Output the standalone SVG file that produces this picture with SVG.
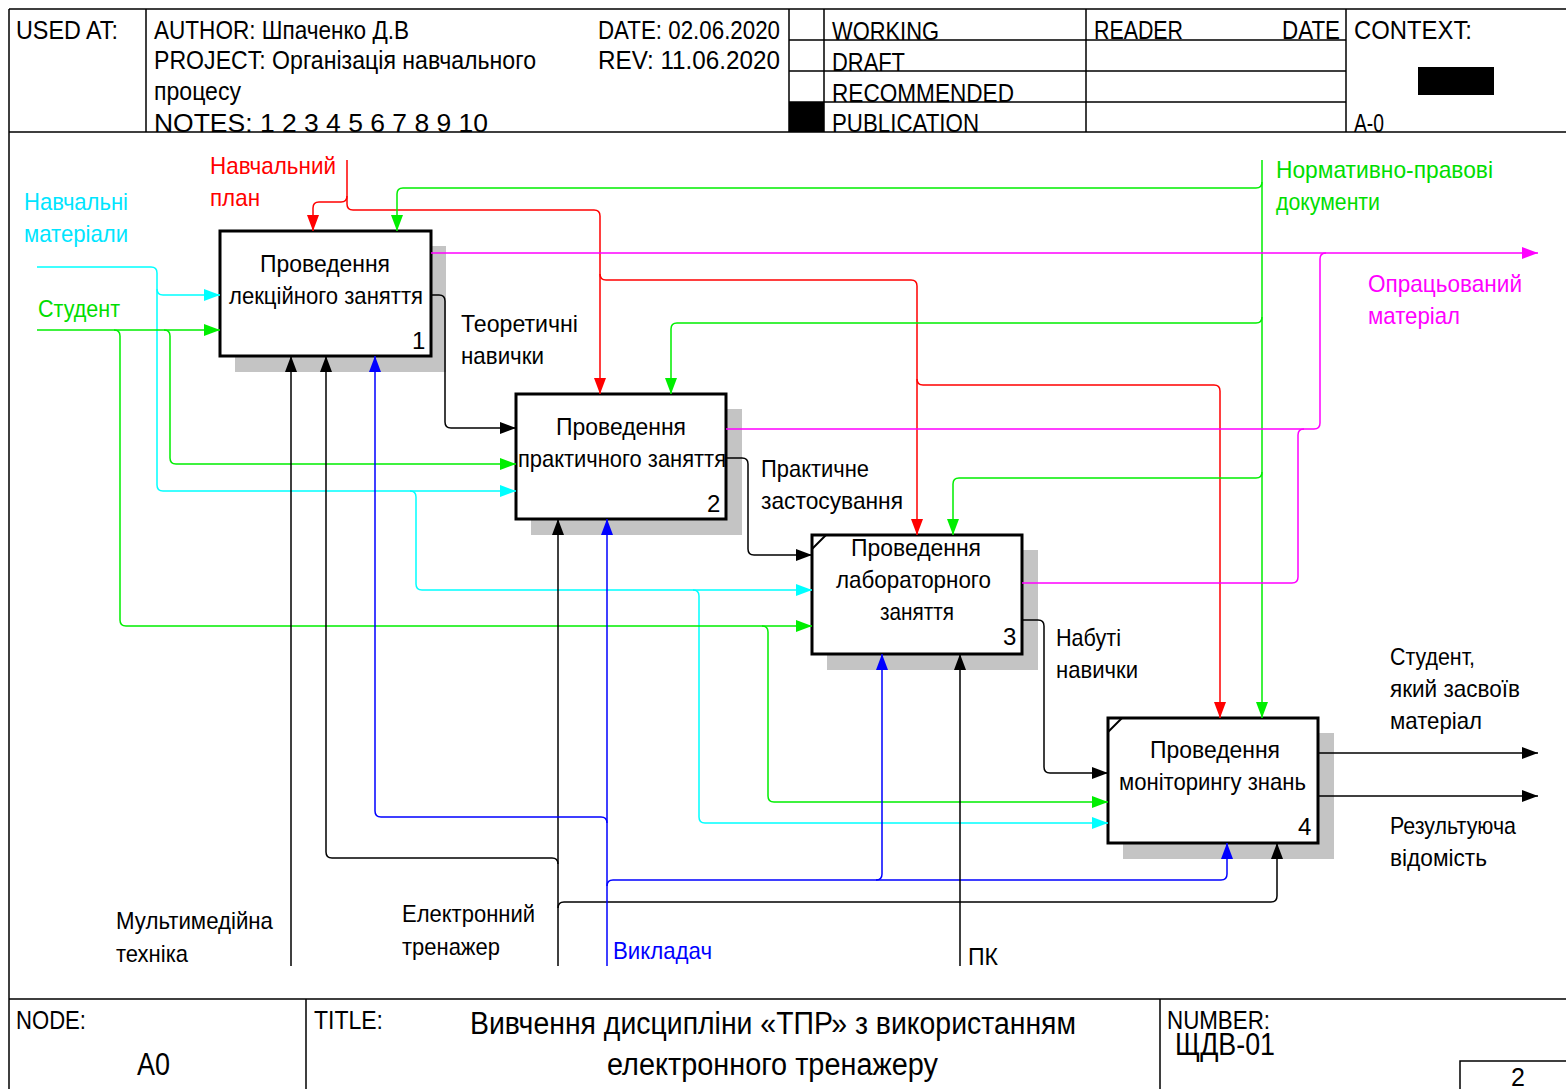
<svg xmlns="http://www.w3.org/2000/svg" width="1566" height="1089" viewBox="0 0 1566 1089">
  <style>
    text { font-family: "Liberation Sans", Arial, sans-serif; font-size: 24px; fill: #000; }
    .hd { font-size: 25px; }
    .ttl { font-size: 31px; }
    .frame { stroke: #000; stroke-width: 1.5; fill: none; }
    .box { fill: #fff; stroke: #000; stroke-width: 3; }
    .shadow { fill: #c4c4c4; }
    .c { fill: none; stroke-width: 1.5; }
    .k { stroke: #000; }
    .r { stroke: #ff0000; }
    .g { stroke: #00ee00; }
    .cy { stroke: #00ffff; }
    .b { stroke: #0000ff; }
    .m { stroke: #ff00ff; }
    .tr { fill: #ff0000; }
    .tg { fill: #00dd00; }
    .tc { fill: #00e5ff; }
    .tb { fill: #0000ff; }
    .tm { fill: #ff00ff; }
  </style>
  <defs>
    <marker id="ak" markerUnits="userSpaceOnUse" markerWidth="16" markerHeight="12" refX="16" refY="6" orient="auto"><path d="M0,0 L16,6 L0,12 z" fill="#000"/></marker>
    <marker id="ar" markerUnits="userSpaceOnUse" markerWidth="16" markerHeight="12" refX="16" refY="6" orient="auto"><path d="M0,0 L16,6 L0,12 z" fill="#ff0000"/></marker>
    <marker id="ag" markerUnits="userSpaceOnUse" markerWidth="16" markerHeight="12" refX="16" refY="6" orient="auto"><path d="M0,0 L16,6 L0,12 z" fill="#00ee00"/></marker>
    <marker id="ac" markerUnits="userSpaceOnUse" markerWidth="16" markerHeight="12" refX="16" refY="6" orient="auto"><path d="M0,0 L16,6 L0,12 z" fill="#00ffff"/></marker>
    <marker id="ab" markerUnits="userSpaceOnUse" markerWidth="16" markerHeight="12" refX="16" refY="6" orient="auto"><path d="M0,0 L16,6 L0,12 z" fill="#0000ff"/></marker>
    <marker id="am" markerUnits="userSpaceOnUse" markerWidth="16" markerHeight="12" refX="16" refY="6" orient="auto"><path d="M0,0 L16,6 L0,12 z" fill="#ff00ff"/></marker>
  </defs>

  <rect width="1566" height="1089" fill="#fff"/>

  <!-- header block -->
  <g id="header">
    <path class="frame" d="M9,9 H1566 M9,132 H1566 M9,9 V1089 M146,9 V132 M789,9 V132 M824,9 V132 M1086,9 V132 M1346,9 V132 M789,40 H1346 M789,71 H1346 M789,102 H1346"/>
    <rect x="789" y="102" width="35" height="30" fill="#000"/>
    <rect x="1418" y="67" width="76" height="28" fill="#000"/>
    <text class="hd" x="16" y="39" textLength="102" lengthAdjust="spacingAndGlyphs">USED AT:</text>
    <text class="hd" x="154" y="39" textLength="255" lengthAdjust="spacingAndGlyphs">AUTHOR:  Шпаченко Д.В</text>
    <text class="hd" x="598" y="39" textLength="182" lengthAdjust="spacingAndGlyphs">DATE: 02.06.2020</text>
    <text class="hd" x="154" y="69" textLength="382" lengthAdjust="spacingAndGlyphs">PROJECT:  Організація навчального</text>
    <text class="hd" x="598" y="69" textLength="182" lengthAdjust="spacingAndGlyphs">REV:   11.06.2020</text>
    <text class="hd" x="154" y="100" textLength="87" lengthAdjust="spacingAndGlyphs">процесу</text>
    <text class="hd" x="154" y="132" textLength="334" lengthAdjust="spacingAndGlyphs">NOTES:  1  2  3  4  5  6  7  8  9  10</text>
    <text class="hd" x="832" y="40" textLength="107" lengthAdjust="spacingAndGlyphs">WORKING</text>
    <text class="hd" x="832" y="71" textLength="73" lengthAdjust="spacingAndGlyphs">DRAFT</text>
    <text class="hd" x="832" y="102" textLength="182" lengthAdjust="spacingAndGlyphs">RECOMMENDED</text>
    <text class="hd" x="832" y="132" textLength="147" lengthAdjust="spacingAndGlyphs">PUBLICATION</text>
    <text class="hd" x="1094" y="39" textLength="89" lengthAdjust="spacingAndGlyphs">READER</text>
    <text class="hd" x="1282" y="39" textLength="58" lengthAdjust="spacingAndGlyphs">DATE</text>
    <text class="hd" x="1354" y="39" textLength="118" lengthAdjust="spacingAndGlyphs">CONTEXT:</text>
    <text class="hd" x="1354" y="132" textLength="30" lengthAdjust="spacingAndGlyphs">A-0</text>
  </g>

  <!-- footer block -->
  <g id="footer">
    <path class="frame" d="M9,999 H1566 M306,999 V1089 M1160,999 V1089 M1460,1089 V1061 H1566"/>
    <text class="hd" x="16" y="1029" textLength="70" lengthAdjust="spacingAndGlyphs">NODE:</text>
    <text class="ttl" x="137" y="1075" textLength="33" lengthAdjust="spacingAndGlyphs">A0</text>
    <text class="hd" x="314" y="1029" textLength="69" lengthAdjust="spacingAndGlyphs">TITLE:</text>
    <text class="ttl" x="470" y="1034" textLength="606" lengthAdjust="spacingAndGlyphs">Вивчення дисципліни «ТПР» з використанням</text>
    <text class="ttl" x="607" y="1075" textLength="331" lengthAdjust="spacingAndGlyphs">електронного тренажеру</text>
    <text class="hd" x="1167" y="1029" textLength="103" lengthAdjust="spacingAndGlyphs">NUMBER:</text>
    <text class="ttl" x="1175" y="1055" textLength="100" lengthAdjust="spacingAndGlyphs">ЩДВ-01</text>
    <text class="hd" x="1511" y="1086">2</text>
  </g>

  <!-- activity 1 -->
  <g id="node1">
    <rect class="shadow" x="235" y="246" width="211" height="126"/>
    <rect class="box" x="220" y="231" width="211" height="125"/>
    <text x="260" y="272" textLength="130" lengthAdjust="spacingAndGlyphs">Проведення</text>
    <text x="229" y="304" textLength="194" lengthAdjust="spacingAndGlyphs">лекційного заняття</text>
    <text x="412" y="349">1</text>
  </g>
  <!-- activity 2 -->
  <g id="node2">
    <rect class="shadow" x="531" y="409" width="211" height="126"/>
    <rect class="box" x="516" y="394" width="210" height="125"/>
    <text x="556" y="435" textLength="130" lengthAdjust="spacingAndGlyphs">Проведення</text>
    <text x="518" y="467" textLength="208" lengthAdjust="spacingAndGlyphs">практичного заняття</text>
    <text x="707" y="512">2</text>
  </g>
  <!-- activity 3 -->
  <g id="node3">
    <rect class="shadow" x="827" y="550" width="211" height="120"/>
    <rect class="box" x="812" y="535" width="210" height="119"/>
    <path d="M812,549 L826,535" stroke="#000" stroke-width="2"/>
    <text x="851" y="556" textLength="130" lengthAdjust="spacingAndGlyphs">Проведення</text>
    <text x="836" y="588" textLength="155" lengthAdjust="spacingAndGlyphs">лабораторного</text>
    <text x="880" y="620" textLength="74" lengthAdjust="spacingAndGlyphs">заняття</text>
    <text x="1003" y="645">3</text>
  </g>
  <!-- activity 4 -->
  <g id="node4">
    <rect class="shadow" x="1123" y="733" width="211" height="126"/>
    <rect class="box" x="1108" y="718" width="210" height="125"/>
    <path d="M1108,732 L1122,718" stroke="#000" stroke-width="2"/>
    <text x="1150" y="758" textLength="130" lengthAdjust="spacingAndGlyphs">Проведення</text>
    <text x="1119" y="790" textLength="187" lengthAdjust="spacingAndGlyphs">моніторингу знань</text>
    <text x="1298" y="835">4</text>
  </g>

  <!-- connectors -->
  <g id="connectors">
    <!-- inputs: Навчальні матеріали -->
    <path class="c cy" d="M37,267 H151 Q157,267 157,273 V289 Q157,295 163,295 H220" marker-end="url(#ac)"/>
    <path class="c cy" d="M157,289 V485 Q157,491 163,491 H516" marker-end="url(#ac)"/>
    <path class="c cy" d="M410,491 Q416,491 416,497 V584 Q416,590 422,590 H812" marker-end="url(#ac)"/>
    <path class="c cy" d="M693,590 Q699,590 699,596 V817 Q699,823 705,823 H1108" marker-end="url(#ac)"/>
    <!-- inputs: Студент -->
    <path class="c g" d="M37,330 H220" marker-end="url(#ag)"/>
    <path class="c g" d="M114,330 Q120,330 120,336 V620 Q120,626 126,626 H812" marker-end="url(#ag)"/>
    <path class="c g" d="M164,330 Q170,330 170,336 V458 Q170,464 176,464 H516" marker-end="url(#ag)"/>
    <path class="c g" d="M762,626 Q768,626 768,632 V796 Q768,802 774,802 H1108" marker-end="url(#ag)"/>
    <!-- controls: Навчальний план -->
    <path class="c r" d="M347,160 V196 Q347,202 341,202 H319 Q313,202 313,208 V231" marker-end="url(#ar)"/>
    <path class="c r" d="M347,196 V204 Q347,210 353,210 H594 Q600,210 600,216 V394" marker-end="url(#ar)"/>
    <path class="c r" d="M600,274 Q600,280 606,280 H911 Q917,280 917,286 V535" marker-end="url(#ar)"/>
    <path class="c r" d="M917,379 Q917,385 923,385 H1214 Q1220,385 1220,391 V718" marker-end="url(#ar)"/>
    <!-- controls: Нормативно-правові документи -->
    <path class="c g" d="M1262,160 V718" marker-end="url(#ag)"/>
    <path class="c g" d="M1262,182 Q1262,188 1256,188 H403 Q397,188 397,194 V231" marker-end="url(#ag)"/>
    <path class="c g" d="M1262,317 Q1262,323 1256,323 H677 Q671,323 671,329 V394" marker-end="url(#ag)"/>
    <path class="c g" d="M1262,472 Q1262,478 1256,478 H959 Q953,478 953,484 V535" marker-end="url(#ag)"/>
    <!-- outputs: Опрацьований матеріал -->
    <path class="c m" d="M431,253 H1538" marker-end="url(#am)"/>
    <path class="c m" d="M726,429 H1314 Q1320,429 1320,423 V259 Q1320,253 1326,253"/>
    <path class="c m" d="M1022,583 H1292 Q1298,583 1298,577 V435 Q1298,429 1304,429"/>
    <!-- activity-to-activity flows -->
    <path class="c k" d="M431,295 H439 Q445,295 445,301 V422 Q445,428 451,428 H516" marker-end="url(#ak)"/>
    <path class="c k" d="M726,458 H742 Q748,458 748,464 V549 Q748,555 754,555 H812" marker-end="url(#ak)"/>
    <path class="c k" d="M1022,620 H1038 Q1044,620 1044,626 V767 Q1044,773 1050,773 H1108" marker-end="url(#ak)"/>
    <!-- final outputs -->
    <path class="c k" d="M1318,753 H1538" marker-end="url(#ak)"/>
    <path class="c k" d="M1318,796 H1538" marker-end="url(#ak)"/>
    <!-- mechanisms -->
    <path class="c k" d="M291,966 V356" marker-end="url(#ak)"/>
    <path class="c k" d="M558,966 V519" marker-end="url(#ak)"/>
    <path class="c k" d="M558,864 Q558,858 552,858 H332 Q326,858 326,852 V356" marker-end="url(#ak)"/>
    <path class="c k" d="M558,908 Q558,902 564,902 H1271 Q1277,902 1277,896 V843" marker-end="url(#ak)"/>
    <path class="c b" d="M607,966 V519" marker-end="url(#ab)"/>
    <path class="c b" d="M607,823 Q607,817 601,817 H381 Q375,817 375,811 V356" marker-end="url(#ab)"/>
    <path class="c b" d="M607,886 Q607,880 613,880 H876 Q882,880 882,874 V654" marker-end="url(#ab)"/>
    <path class="c b" d="M876,880 H1221 Q1227,880 1227,874 V843" marker-end="url(#ab)"/>
    <path class="c k" d="M960,966 V654" marker-end="url(#ak)"/>
  </g>

  <!-- arrow labels -->
  <g id="labels">
    <text class="tr" x="210" y="174" textLength="126" lengthAdjust="spacingAndGlyphs">Навчальний</text>
    <text class="tr" x="210" y="206" textLength="50" lengthAdjust="spacingAndGlyphs">план</text>
    <text class="tc" x="24" y="210" textLength="104" lengthAdjust="spacingAndGlyphs">Навчальні</text>
    <text class="tc" x="24" y="242" textLength="104" lengthAdjust="spacingAndGlyphs">матеріали</text>
    <text class="tg" x="38" y="317" textLength="82" lengthAdjust="spacingAndGlyphs">Студент</text>
    <text class="tg" x="1276" y="178" textLength="217" lengthAdjust="spacingAndGlyphs">Нормативно-правові</text>
    <text class="tg" x="1276" y="210" textLength="104" lengthAdjust="spacingAndGlyphs">документи</text>
    <text class="tm" x="1368" y="292" textLength="154" lengthAdjust="spacingAndGlyphs">Опрацьований</text>
    <text class="tm" x="1368" y="324" textLength="92" lengthAdjust="spacingAndGlyphs">матеріал</text>
    <text x="461" y="332" textLength="117" lengthAdjust="spacingAndGlyphs">Теоретичні</text>
    <text x="461" y="364" textLength="83" lengthAdjust="spacingAndGlyphs">навички</text>
    <text x="761" y="477" textLength="108" lengthAdjust="spacingAndGlyphs">Практичне</text>
    <text x="761" y="509" textLength="142" lengthAdjust="spacingAndGlyphs">застосування</text>
    <text x="1056" y="646" textLength="65" lengthAdjust="spacingAndGlyphs">Набуті</text>
    <text x="1056" y="678" textLength="82" lengthAdjust="spacingAndGlyphs">навички</text>
    <text x="1390" y="665" textLength="85" lengthAdjust="spacingAndGlyphs">Студент,</text>
    <text x="1390" y="697" textLength="130" lengthAdjust="spacingAndGlyphs">який засвоїв</text>
    <text x="1390" y="729" textLength="92" lengthAdjust="spacingAndGlyphs">матеріал</text>
    <text x="1390" y="834" textLength="126" lengthAdjust="spacingAndGlyphs">Результуюча</text>
    <text x="1390" y="866" textLength="97" lengthAdjust="spacingAndGlyphs">відомість</text>
    <text x="116" y="929" textLength="157" lengthAdjust="spacingAndGlyphs">Мультимедійна</text>
    <text x="116" y="962" textLength="72" lengthAdjust="spacingAndGlyphs">техніка</text>
    <text x="402" y="922" textLength="133" lengthAdjust="spacingAndGlyphs">Електронний</text>
    <text x="402" y="955" textLength="98" lengthAdjust="spacingAndGlyphs">тренажер</text>
    <text class="tb" x="613" y="959" textLength="99" lengthAdjust="spacingAndGlyphs">Викладач</text>
    <text x="968" y="965" textLength="30" lengthAdjust="spacingAndGlyphs">ПК</text>
  </g>
</svg>
